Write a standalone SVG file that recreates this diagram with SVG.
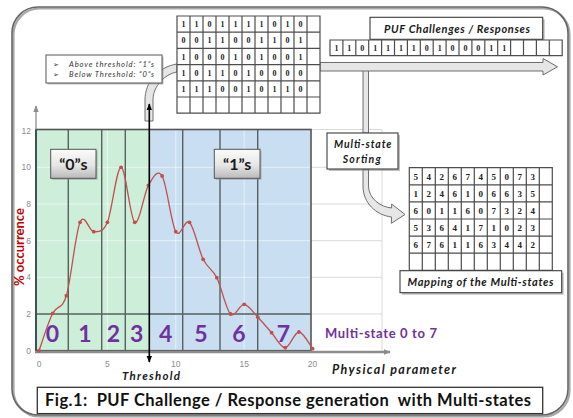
<svg xmlns="http://www.w3.org/2000/svg" width="573" height="418" viewBox="0 0 573 418">
  <defs>
    <style>
      .lbl { font-family: Lato, "Liberation Sans", sans-serif; font-weight: bold; font-style: italic; fill: #1a1a1a; text-anchor: middle; }
      .bit { font-family: "Liberation Serif", serif; font-weight: bold; font-size: 8px; fill: #222; text-anchor: middle; }
      .ms { font-family: "Liberation Serif", serif; font-weight: bold; font-size: 9px; fill: #222; text-anchor: middle; }
      .grid { fill: none; stroke: #4d4d4d; stroke-width: 1.2; }
      .tick { font-family: "Liberation Sans", sans-serif; font-size: 8.5px; fill: #8c8c8c; }
      .state { font-family: Lato, "Liberation Sans", sans-serif; font-weight: bold; font-size: 23px; fill: #7030a0; text-anchor: middle; }
      .sep { stroke: #56615f; stroke-width: 1.4; }
      .glight { stroke: #d9d9d9; stroke-width: 1; }
      .gin { stroke: #ffffff; stroke-opacity: 0.55; stroke-width: 1; }
      .band { fill: #e6e6e6; stroke: #6e6e6e; stroke-width: 1; }
      .box { fill: #ffffff; stroke: #3c3c3c; stroke-width: 1.1; }
      .shadow { fill: #8a8a8a; opacity: 0.55; }
      .pt { fill: #c0504d; }
    </style>
    <linearGradient id="qgrad" x1="0" y1="0" x2="0" y2="1">
      <stop offset="0" stop-color="#fbfbfb"/>
      <stop offset="0.55" stop-color="#e6e6e6"/>
      <stop offset="1" stop-color="#b9b9b9"/>
    </linearGradient>
    <marker id="blk" viewBox="0 0 10 10" refX="9" refY="5" markerWidth="7" markerHeight="7" orient="auto-start-reverse" markerUnits="userSpaceOnUse">
      <path d="M0,1 L10,5 L0,9 Z" fill="#000"/>
    </marker>
    <marker id="gry" viewBox="0 0 10 10" refX="9" refY="5" markerWidth="7" markerHeight="7" orient="auto" markerUnits="userSpaceOnUse">
      <path d="M0,1 L10,5 L0,9 Z" fill="#8c8c8c"/>
    </marker>
  </defs>

  <rect width="573" height="418" fill="#ffffff"/>

  <!-- outer rounded frame with soft drop edge -->
  <rect x="13.5" y="8.5" width="556" height="408" rx="26" fill="none" stroke="#a8a8a8" stroke-width="2.2"/>
  <rect x="12" y="7" width="556" height="408" rx="26" fill="none" stroke="#666" stroke-width="1.6"/>

  <!-- chart -->
  <g id="chart">
    <!-- light gridlines beyond plot -->
    <g class="glight">
      <line x1="311" y1="129.5" x2="382" y2="129.5"/>
      <line x1="311" y1="167.3" x2="382" y2="167.3"/>
      <line x1="311" y1="204" x2="382" y2="204"/>
      <line x1="311" y1="240.7" x2="382" y2="240.7"/>
      <line x1="311" y1="277.3" x2="382" y2="277.3"/>
      <line x1="311" y1="314" x2="382" y2="314"/>
      <line x1="382" y1="129.5" x2="382" y2="351"/>
    </g>
    <!-- state regions -->
    <rect x="36" y="129.5" width="113.3" height="221.2" fill="#cdeed9"/>
    <rect x="149.3" y="129.5" width="161.7" height="221.2" fill="#c9def0"/>
    <!-- inner gridlines -->
    <g class="gin">
      <line x1="36" y1="167.3" x2="311" y2="167.3"/>
      <line x1="36" y1="204" x2="311" y2="204"/>
      <line x1="36" y1="240.7" x2="311" y2="240.7"/>
      <line x1="36" y1="277.3" x2="311" y2="277.3"/>
      <line x1="107.4" y1="129.5" x2="107.4" y2="350.7"/>
      <line x1="175.8" y1="129.5" x2="175.8" y2="350.7"/>
      <line x1="244.2" y1="129.5" x2="244.2" y2="350.7"/>
    </g>
    <!-- state separators -->
    <g class="sep">
      <line x1="68.3" y1="129.5" x2="68.3" y2="350.7"/>
      <line x1="101.7" y1="129.5" x2="101.7" y2="350.7"/>
      <line x1="125.3" y1="129.5" x2="125.3" y2="350.7"/>
      <line x1="182.7" y1="129.5" x2="182.7" y2="350.7"/>
      <line x1="220" y1="129.5" x2="220" y2="350.7"/>
      <line x1="257.7" y1="129.5" x2="257.7" y2="350.7"/>
      <line x1="36" y1="314" x2="311" y2="314"/>
    </g>
    <rect x="36" y="129.5" width="275" height="221.2" fill="none" stroke="#555" stroke-width="1.6"/>

    <!-- axes -->
    <line x1="36" y1="352" x2="36" y2="106" stroke="#8c8c8c" stroke-width="1.3" marker-end="url(#gry)"/>
    <line x1="36" y1="129.5" x2="36" y2="351" stroke="#3a4a5a" stroke-width="1.8"/>
    <line x1="35" y1="352" x2="390" y2="352" stroke="#8c8c8c" stroke-width="2.6" marker-end="url(#gry)"/>

    <!-- tick labels -->
    <g class="tick" text-anchor="end">
      <text x="31" y="133.7">12</text>
      <text x="31" y="170.3">10</text>
      <text x="31" y="207">8</text>
      <text x="31" y="243.7">6</text>
      <text x="31" y="280.3">4</text>
      <text x="31" y="317">2</text>
      <text x="31" y="353.7">0</text>
    </g>
    <g class="tick" text-anchor="middle">
      <text x="39" y="367">0</text>
      <text x="107.4" y="367">5</text>
      <text x="175.8" y="367">10</text>
      <text x="244.2" y="367">15</text>
      <text x="312.6" y="367">20</text>
    </g>

    <!-- occurrence curve -->
    <path fill="none" stroke="#c0504d" stroke-width="1.3" d="M39,350.7 C41.28,344.47 48.12,322.47 52.68,313.3 C57.24,304.13 61.8,310.87 66.36,295.7 C70.92,280.53 75.48,232.97 80.04,222.3 C84.6,211.63 89.16,231.7 93.72,231.7 C98.28,231.7 102.84,233.03 107.4,222.3 C111.96,211.57 116.52,167.3 121.08,167.3 C125.64,167.3 130.2,219.3 134.76,222.3 C139.32,225.3 143.88,193.02 148.44,185.3 C153,177.58 157.56,168.27 162.12,176 C166.68,183.73 171.24,223.98 175.8,231.7 C180.36,239.42 184.92,217.7 189.48,222.3 C194.04,226.9 198.6,250.07 203.16,259.3 C207.72,268.53 212.28,268.58 216.84,277.7 C221.4,286.82 225.96,309.57 230.52,314 C235.08,318.43 239.64,303.75 244.2,304.3 C248.76,304.85 253.32,312.57 257.88,317.3 C262.44,322.03 267,327.63 271.56,332.7 C276.12,337.77 280.68,347.82 285.24,347.7 C289.8,347.58 294.36,331.83 298.92,332 C303.48,332.17 310.32,345.92 312.6,348.7"/>
    <g class="pt">
      <circle cx="39" cy="350.7" r="1.9"/>
      <circle cx="52.68" cy="313.3" r="1.9"/>
      <circle cx="66.36" cy="295.7" r="1.9"/>
      <circle cx="80.04" cy="222.3" r="1.9"/>
      <circle cx="93.72" cy="231.7" r="1.9"/>
      <circle cx="107.4" cy="222.3" r="1.9"/>
      <circle cx="121.08" cy="167.3" r="1.9"/>
      <circle cx="134.76" cy="222.3" r="1.9"/>
      <circle cx="148.44" cy="185.3" r="1.9"/>
      <circle cx="162.12" cy="176" r="1.9"/>
      <circle cx="175.8" cy="231.7" r="1.9"/>
      <circle cx="189.48" cy="222.3" r="1.9"/>
      <circle cx="203.16" cy="259.3" r="1.9"/>
      <circle cx="216.84" cy="277.7" r="1.9"/>
      <circle cx="230.52" cy="314" r="1.9"/>
      <circle cx="244.2" cy="304.3" r="1.9"/>
      <circle cx="257.88" cy="317.3" r="1.9"/>
      <circle cx="271.56" cy="332.7" r="1.9"/>
      <circle cx="285.24" cy="347.7" r="1.9"/>
      <circle cx="298.92" cy="332" r="1.9"/>
      <circle cx="312.6" cy="348.7" r="1.9"/>
    </g>

    <!-- state numbers -->
    <text class="state" x="52.3" y="341.5">0</text>
    <text class="state" x="85" y="341.5">1</text>
    <text class="state" x="113.3" y="341.5">2</text>
    <text class="state" x="136.7" y="341.5">3</text>
    <text class="state" x="165.7" y="341.5">4</text>
    <text class="state" x="201" y="341.5">5</text>
    <text class="state" x="239" y="341.5">6</text>
    <text class="state" x="283.3" y="341.5">7</text>

    <text x="325" y="338" font-family="Lato, 'Liberation Sans', sans-serif" font-weight="bold" font-size="13" fill="#7030a0" textLength="112">Multi-state 0 to 7</text>
    <text transform="translate(24,247) rotate(-90)" font-family="Lato, 'Liberation Sans', sans-serif" font-weight="bold" font-size="13" fill="#c00000" text-anchor="middle">% occurrence</text>
    <text class="lbl" x="394" y="373.5" font-size="12.5" fill="#333" textLength="124">Physical parameter</text>
    <text class="lbl" x="151" y="380" font-size="11.5" textLength="58">Threshold</text>
  </g>

  <!-- "0"s / "1"s tags -->
  <g id="zeros">
    <rect x="52.2" y="150.8" width="45.3" height="29" class="shadow"/>
    <rect x="50.7" y="149.3" width="45.3" height="29" fill="url(#qgrad)" stroke="#555" stroke-width="1"/>
    <text x="73.3" y="170" font-family="Lato, 'Liberation Sans', sans-serif" font-weight="bold" font-size="16" fill="#1a1a1a" text-anchor="middle">“0”s</text>
  </g>
  <g id="ones">
    <rect x="215.8" y="150.8" width="45.7" height="29" class="shadow"/>
    <rect x="214.3" y="149.3" width="45.7" height="29" fill="url(#qgrad)" stroke="#555" stroke-width="1"/>
    <text x="237.2" y="170" font-family="Lato, 'Liberation Sans', sans-serif" font-weight="bold" font-size="16" fill="#1a1a1a" text-anchor="middle">“1”s</text>
  </g>

  <!-- connectors -->
  <g id="connectors">
    <!-- curved band from threshold up into the bit matrix -->
    <path class="band" d="M145,121 L145,100 C145,82 158,67 177,64 L177,72 C165,74 153,86 153,100 L153,121 Z"/>
    <!-- threshold line -->
    <line x1="149.3" y1="104" x2="149.3" y2="362" stroke="#000" stroke-width="1.6" marker-start="url(#blk)" marker-end="url(#blk)"/>
    <!-- drop to sorting box and on to the multi-state map -->
    <rect class="band" x="363" y="70" width="5.5" height="63"/>
    <path class="band" d="M363,169 L363,186 C363,203 376,215 391.5,217 L391.3,223.3 L405,214.5 L391.7,204 L391.6,208 C380,207 368.5,198 368.5,186 L368.5,169 Z"/>
    <!-- wide arrow to challenge / response output -->
    <path class="band" d="M320,62.5 L543,62.5 L543,58.5 L557.5,66.8 L543,75 L543,71 L320,71 Z"/>
  </g>

  <!-- threshold legend -->
  <g id="legend">
    <rect x="47.5" y="56.5" width="116" height="28" class="shadow"/>
    <rect x="46" y="55" width="116" height="28" fill="#fff" stroke="#555" stroke-width="1"/>
    <text x="53" y="66.8" font-family="'DejaVu Sans', sans-serif" font-size="7" fill="#333">➢</text>
    <text x="53" y="77.3" font-family="'DejaVu Sans', sans-serif" font-size="7" fill="#333">➢</text>
    <text x="69" y="66.8" font-family="Lato, 'Liberation Sans', sans-serif" font-style="italic" font-size="7.6" fill="#333" textLength="85">Above threshold: “1”s</text>
    <text x="69" y="77.3" font-family="Lato, 'Liberation Sans', sans-serif" font-style="italic" font-size="7.6" fill="#333" textLength="85">Below Threshold: “0”s</text>
  </g>

  <!-- binary response matrix -->
  <g id="bit-matrix">
    <rect x="177" y="16" width="143" height="97.2" fill="#fff"/>
    <path class="grid" d="M177,16 H320 V113.2 H177 Z M190,16 V113.2 M203,16 V113.2 M216,16 V113.2 M229,16 V113.2 M242,16 V113.2 M255,16 V113.2 M268,16 V113.2 M281,16 V113.2 M294,16 V113.2 M307,16 V113.2 M177,32.2 H320 M177,48.4 H320 M177,64.6 H320 M177,80.8 H320 M177,97 H320"/>
    <g class="bit">
      <text y="27.1"><tspan x="183.5">1</tspan><tspan x="196.5">1</tspan><tspan x="209.5">0</tspan><tspan x="222.5">1</tspan><tspan x="235.5">1</tspan><tspan x="248.5">1</tspan><tspan x="261.5">1</tspan><tspan x="274.5">0</tspan><tspan x="287.5">1</tspan><tspan x="300.5">0</tspan></text>
      <text y="43.3"><tspan x="183.5">0</tspan><tspan x="196.5">0</tspan><tspan x="209.5">1</tspan><tspan x="222.5">1</tspan><tspan x="235.5">0</tspan><tspan x="248.5">0</tspan><tspan x="261.5">1</tspan><tspan x="274.5">1</tspan><tspan x="287.5">0</tspan><tspan x="300.5">1</tspan></text>
      <text y="59.5"><tspan x="183.5">1</tspan><tspan x="196.5">0</tspan><tspan x="209.5">0</tspan><tspan x="222.5">0</tspan><tspan x="235.5">1</tspan><tspan x="248.5">0</tspan><tspan x="261.5">1</tspan><tspan x="274.5">0</tspan><tspan x="287.5">0</tspan><tspan x="300.5">1</tspan></text>
      <text y="75.7"><tspan x="183.5">1</tspan><tspan x="196.5">0</tspan><tspan x="209.5">1</tspan><tspan x="222.5">1</tspan><tspan x="235.5">0</tspan><tspan x="248.5">1</tspan><tspan x="261.5">0</tspan><tspan x="274.5">0</tspan><tspan x="287.5">0</tspan><tspan x="300.5">0</tspan></text>
      <text y="91.9"><tspan x="183.5">1</tspan><tspan x="196.5">1</tspan><tspan x="209.5">1</tspan><tspan x="222.5">0</tspan><tspan x="235.5">0</tspan><tspan x="248.5">1</tspan><tspan x="261.5">0</tspan><tspan x="274.5">1</tspan><tspan x="287.5">1</tspan><tspan x="300.5">0</tspan></text>
    </g>
  </g>

  <!-- challenge / response title and bit row -->
  <g id="puf-title">
    <rect x="372" y="19.3" width="172.7" height="22" class="shadow"/>
    <rect x="370" y="17.3" width="172.7" height="22" class="box"/>
    <text class="lbl" x="457" y="32.5" font-size="11" textLength="146">PUF Challenges / Responses</text>
  </g>
  <g id="puf-row">
    <rect x="330" y="40" width="232.2" height="15.7" fill="#fff"/>
    <path class="grid" d="M330,40 H562.2 V55.7 H330 Z M342.9,40 V55.7 M355.8,40 V55.7 M368.7,40 V55.7 M381.6,40 V55.7 M394.5,40 V55.7 M407.4,40 V55.7 M420.3,40 V55.7 M433.2,40 V55.7 M446.1,40 V55.7 M459,40 V55.7 M471.9,40 V55.7 M484.8,40 V55.7 M497.7,40 V55.7 M510.6,40 V55.7 M523.5,40 V55.7 M536.4,40 V55.7 M549.3,40 V55.7"/>
    <text class="bit" y="50.7"><tspan x="336.45">1</tspan><tspan x="349.35">1</tspan><tspan x="362.25">0</tspan><tspan x="375.15">1</tspan><tspan x="388.05">1</tspan><tspan x="400.95">1</tspan><tspan x="413.85">1</tspan><tspan x="426.75">0</tspan><tspan x="439.65">1</tspan><tspan x="452.55">0</tspan><tspan x="465.45">0</tspan><tspan x="478.35">0</tspan><tspan x="491.25">1</tspan><tspan x="504.15">1</tspan></text>
  </g>

  <!-- sorting step -->
  <g id="sorting">
    <rect x="329" y="135" width="71" height="36" class="shadow"/>
    <rect x="327" y="133" width="71" height="36" class="box"/>
    <text class="lbl" x="362.7" y="147.7" font-size="10.5" textLength="57.5">Multi-state</text>
    <text class="lbl" x="361.7" y="163" font-size="10.5" textLength="38">Sorting</text>
  </g>

  <!-- multi-state map -->
  <g id="state-matrix">
    <rect x="409.3" y="167.7" width="143" height="102.6" fill="#fff"/>
    <path class="grid" d="M409.3,167.7 H552.3 V270.3 H409.3 Z M422.3,167.7 V270.3 M435.3,167.7 V270.3 M448.3,167.7 V270.3 M461.3,167.7 V270.3 M474.3,167.7 V270.3 M487.3,167.7 V270.3 M500.3,167.7 V270.3 M513.3,167.7 V270.3 M526.3,167.7 V270.3 M539.3,167.7 V270.3 M409.3,184.8 H552.3 M409.3,201.9 H552.3 M409.3,219 H552.3 M409.3,236.1 H552.3 M409.3,253.2 H552.3"/>
    <g class="ms">
      <text y="179.5"><tspan x="415.8">5</tspan><tspan x="428.8">4</tspan><tspan x="441.8">2</tspan><tspan x="454.8">6</tspan><tspan x="467.8">7</tspan><tspan x="480.8">4</tspan><tspan x="493.8">5</tspan><tspan x="506.8">0</tspan><tspan x="519.8">7</tspan><tspan x="532.8">3</tspan></text>
      <text y="196.6"><tspan x="415.8">1</tspan><tspan x="428.8">2</tspan><tspan x="441.8">4</tspan><tspan x="454.8">6</tspan><tspan x="467.8">1</tspan><tspan x="480.8">0</tspan><tspan x="493.8">6</tspan><tspan x="506.8">6</tspan><tspan x="519.8">3</tspan><tspan x="532.8">5</tspan></text>
      <text y="213.7"><tspan x="415.8">6</tspan><tspan x="428.8">0</tspan><tspan x="441.8">1</tspan><tspan x="454.8">1</tspan><tspan x="467.8">6</tspan><tspan x="480.8">0</tspan><tspan x="493.8">7</tspan><tspan x="506.8">3</tspan><tspan x="519.8">2</tspan><tspan x="532.8">4</tspan></text>
      <text y="230.8"><tspan x="415.8">5</tspan><tspan x="428.8">3</tspan><tspan x="441.8">6</tspan><tspan x="454.8">4</tspan><tspan x="467.8">1</tspan><tspan x="480.8">7</tspan><tspan x="493.8">1</tspan><tspan x="506.8">0</tspan><tspan x="519.8">2</tspan><tspan x="532.8">3</tspan></text>
      <text y="247.9"><tspan x="415.8">6</tspan><tspan x="428.8">7</tspan><tspan x="441.8">6</tspan><tspan x="454.8">1</tspan><tspan x="467.8">1</tspan><tspan x="480.8">6</tspan><tspan x="493.8">3</tspan><tspan x="506.8">4</tspan><tspan x="519.8">4</tspan><tspan x="532.8">2</tspan></text>
    </g>
  </g>
  <g id="mapping-label">
    <rect x="402" y="272.7" width="161.7" height="22" class="shadow"/>
    <rect x="400" y="270.7" width="161.7" height="22" class="box"/>
    <text class="lbl" x="480.5" y="285.8" font-size="11" textLength="146">Mapping of the Multi-states</text>
  </g>

  <!-- figure caption -->
  <g id="caption">
    <rect x="37.3" y="387.3" width="505.4" height="26.3" fill="#fff" stroke="#333" stroke-width="1.3"/>
    <text x="45" y="406.3" font-family="Lato, 'Liberation Sans', sans-serif" font-weight="bold" font-size="16.5" fill="#111" textLength="486" xml:space="preserve">Fig.1:  PUF Challenge / Response generation  with Multi-states</text>
  </g>
</svg>
